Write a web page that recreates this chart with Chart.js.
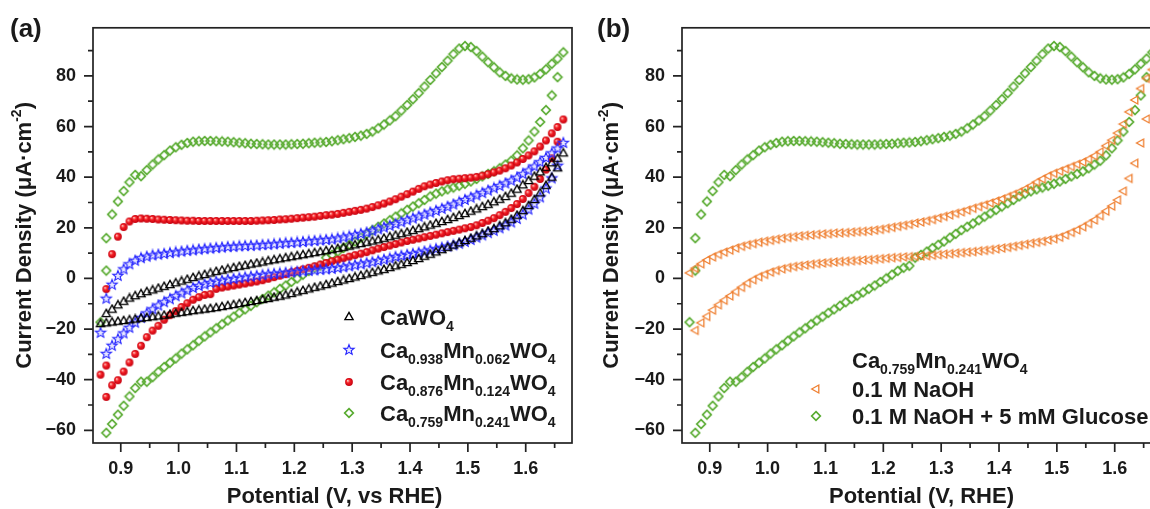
<!DOCTYPE html>
<html>
<head>
<meta charset="utf-8">
<script src="https://cdn.jsdelivr.net/npm/chart.js@4.4.0/dist/chart.umd.min.js"></script>
<style>
  html, body { margin: 0; padding: 0; background: #fff; overflow: hidden; width: 1150px; height: 509px; }
  .panel { position: absolute; top: 0; }
  #wrapA { left: 0; }
  #wrapB { left: 590px; }
</style>
</head>
<body>
<div id="wrapA" class="panel"><canvas id="chartA" width="590" height="509"></canvas></div>
<div id="wrapB" class="panel"><canvas id="chartB" width="600" height="509"></canvas></div>
<script>
// potential grid (V vs RHE), shared by every sweep
const potential = [
  0.875,0.885,0.895,0.905,0.915,0.925,0.935,0.945,0.955,0.965,
  0.975,0.985,0.995,1.005,1.015,1.025,1.035,1.045,1.055,1.065,
  1.075,1.085,1.095,1.105,1.115,1.125,1.135,1.145,1.155,1.165,
  1.175,1.185,1.195,1.205,1.215,1.225,1.235,1.245,1.255,1.265,
  1.275,1.285,1.295,1.305,1.315,1.325,1.335,1.345,1.355,1.365,
  1.375,1.385,1.395,1.405,1.415,1.425,1.435,1.445,1.455,1.465,
  1.475,1.485,1.495,1.505,1.515,1.525,1.535,1.545,1.555,1.565,
  1.575,1.585,1.595,1.605,1.615,1.625,1.635,1.645,1.655,1.665
];

// CaWO4
const caWO4Fwd = [
  -14,-12.3,-10.6,-9.2,-7.9,-7,-6.2,-5.4,-4.7,-4,
  -3.3,-2.6,-1.9,-1.2,-0.5,0.2,0.8,1.4,2,2.6,
  3.1,3.6,4.1,4.6,5,5.5,5.9,6.3,6.8,7.2,
  7.6,8,8.4,8.8,9.2,9.6,10,10.4,10.8,11.2,
  11.7,12.1,12.6,13.1,13.6,14.1,14.6,15.1,15.7,16.3,
  16.9,17.5,18.1,18.8,19.5,20.2,20.9,21.6,22.3,23.1,
  23.9,24.7,25.5,26.4,27.3,28.2,29.1,30.1,31.1,32.2,
  33.5,35.1,36.8,38.5,40.2,41.9,43.7,45.5,47.3,49.4
];
const caWO4Rev = [
  -17.7,-17.4,-17.1,-16.8,-16.5,-16.2,-15.9,-15.6,-15.3,-15,
  -14.7,-14.3,-13.9,-13.6,-13.3,-12.9,-12.6,-12.3,-12,-11.7,
  -11.3,-10.9,-10.5,-10.1,-9.7,-9.3,-8.9,-8.5,-8.1,-7.6,
  -7.2,-6.7,-6.1,-5.5,-4.9,-4.3,-3.7,-3.2,-2.6,-2,
  -1.4,-0.8,-0.2,0.4,1,1.6,2.2,2.8,3.4,4.1,
  4.8,5.4,6.1,6.9,7.7,8.6,9.4,10.3,11.2,12.1,
  13,13.9,14.8,15.7,16.6,17.5,18.5,19.5,20.6,21.8,
  23.2,24.8,26.6,28.6,31,33.6,36.6,39.8,43.5,null
];
const caWO4Turn = [[0.865, -18]];

// Ca0.938Mn0.062WO4
const mn062Fwd = [
  -8,-2.5,1,3.6,5.6,7,8,8.6,9.1,9.4,
  9.7,10,10.3,10.6,10.9,11.1,11.4,11.6,11.8,12,
  12.2,12.4,12.5,12.7,12.8,12.9,13,13.2,13.3,13.5,
  13.7,13.9,14,14.2,14.4,14.6,14.8,15,15.2,15.4,
  15.8,16.2,16.6,17.1,17.6,18.1,18.7,19.4,20.1,20.8,
  21.5,22.2,23,23.7,24.4,25.2,26,26.7,27.5,28.3,
  29.2,30.1,31,31.9,32.8,33.7,34.7,35.6,36.5,37.5,
  38.6,39.8,41.2,42.6,44.2,45.9,47.6,49.4,51.3,53.5
];
const mn062Rev = [
  -29.8,-26.6,-24,-21.7,-19.5,-17.5,-15.6,-13.8,-12.2,-10.7,
  -9.4,-8.2,-7,-5.9,-4.8,-3.8,-3,-2.4,-1.8,-1.3,
  -0.9,-0.5,-0.2,0.1,0.4,0.7,1,1.3,1.6,1.8,
  2,2.2,2.4,2.6,2.8,3,3.2,3.4,3.6,3.8,
  4.1,4.4,4.8,5.2,5.6,6,6.4,6.9,7.4,7.9,
  8.5,8.9,9.3,9.7,10.1,10.6,11.1,11.6,12.1,12.6,
  13.1,13.7,14.4,15.2,16.1,17,17.9,18.8,19.8,20.9,
  22.1,23.5,25.2,27.2,29.5,32,35.5,39.5,44.5,null
];
const mn062Turn = [[0.865, -21.5]];

// Ca0.876Mn0.124WO4
const mn124Fwd = [
  -4.2,9.6,16.5,20.3,22.5,23.5,23.7,23.6,23.5,23.3,
  23.2,23.1,23,22.9,22.8,22.8,22.7,22.7,22.7,22.7,
  22.7,22.7,22.7,22.7,22.7,22.7,22.8,22.9,23,23.1,
  23.3,23.4,23.6,23.8,24,24.2,24.4,24.7,25,25.2,
  25.5,25.9,26.3,26.7,27.1,27.6,28.2,28.9,29.6,30.4,
  31.3,32.3,33.3,34.3,35.4,36.4,37.1,37.7,38.3,38.8,
  39.2,39.4,39.6,39.8,40.1,40.6,41.2,41.9,42.6,43.5,
  44.6,45.8,47.2,48.6,50.2,52.1,54.5,57.3,59.8,62.8
];
const mn124Rev = [
  -46.8,-42.2,-40.2,-36.8,-33.2,-29.8,-26.6,-23.2,-20.6,-18.7,
  -16.3,-14.5,-12.9,-11.3,-9.8,-8.4,-7.4,-6.5,-6.2,-4.1,
  -3.6,-3.2,-2.8,-2.4,-2,-1.6,-1.2,-0.7,-0.1,0.5,
  1.1,1.7,2.4,3,3.6,4.2,4.8,5.5,6.1,6.8,
  7.4,8,8.6,9.2,9.8,10.4,11.1,11.8,12.4,13,
  13.6,14.2,14.8,15.3,15.8,16.3,16.8,17.3,17.8,18.3,
  18.8,19.3,19.8,20.3,21,21.9,22.8,23.8,25,26.3,
  27.8,29.4,31.4,33.7,36.2,39.3,43,47.5,54,null
];
const mn124Turn = [[0.865, -38], [0.875, -34.4]];

// Ca0.759Mn0.241WO4 (same curve in both panels)
const mn241Fwd = [
  15.9,25.3,30.4,34.5,38,40.9,40.4,42.8,45,47,
  48.7,50.5,51.8,52.8,53.5,54,54.2,54.3,54.3,54.2,
  54.1,54,53.8,53.6,53.4,53.2,53.1,53,52.9,52.9,
  52.9,52.9,53,53.1,53.2,53.4,53.6,53.7,53.9,54.2,
  54.6,55,55.4,55.9,56.4,57.1,58,59.3,60.8,62.4,
  64.1,66.3,68.5,70.8,73.2,75.8,78.4,81,83.5,86,
  88.6,90.8,91.8,91.4,89.8,87.6,85.4,83.4,81.4,80,
  79,78.6,78.5,78.7,79.4,80.8,82.6,84.8,86.8,89.3
];
const mn241Rev = [
  -61,-57.5,-53.8,-50.3,-46.6,-43.3,-40.8,-40.8,-39,-36.9,
  -35,-33.3,-31.6,-29.7,-28,-26.4,-24.6,-22.9,-21.3,-19.7,
  -18.1,-16.6,-15.1,-13.6,-12.2,-10.8,-9.4,-8.1,-6.8,-5.5,
  -4.1,-2.8,-1.4,0,1.5,3,4.2,5,8.2,9.3,
  10.6,12,13.3,14.6,16.1,17.6,19.1,20.4,21.7,23,
  24.4,25.7,27.1,28.4,29.7,31,32.4,33.5,34.4,35.2,
  35.9,36.6,37.4,38.3,39.3,40.3,41.3,42.3,43.5,45,
  46.5,48.6,51.4,54.5,58,61.8,66.5,72.3,79.5,null
];
const mn241Turn = [[0.865, -17.3], [0.875, 3.1]];

// Ca0.759Mn0.241WO4 in 0.1 M NaOH
const naohFwd = [
  4,5.8,7.3,8.5,9.5,10.4,11.2,12,12.7,13.3,
  13.8,14.3,14.7,15.1,15.5,15.9,16.2,16.5,16.8,17,
  17.2,17.4,17.6,17.7,17.9,18,18.1,18.3,18.5,18.6,
  18.8,19.1,19.4,19.8,20.2,20.6,21,21.4,21.9,22.3,
  22.8,23.3,23.9,24.5,25.1,25.7,26.3,27,27.7,28.4,
  29.1,29.8,30.6,31.4,32.3,33.2,34.2,35.3,36.6,38,
  39.3,40.5,41.5,42.4,43.3,44.2,45.1,46,47.1,48.4,
  50,52.4,54.6,57.4,61,65.8,70.5,75,79,82.5
];
const naohRev = [
  -20.5,-17.5,-15,-12.5,-10.4,-8.6,-6.9,-5.2,-3.5,-1.9,
  -0.5,0.7,1.6,2.5,3.2,3.8,4.3,4.7,5,5.3,
  5.6,5.9,6.1,6.3,6.5,6.7,6.8,7,7.1,7.3,
  7.4,7.6,7.8,8,8.2,8.3,8.5,8.6,8.7,8.9,
  9,9.2,9.4,9.6,9.8,10,10.2,10.4,10.6,10.9,
  11.1,11.4,11.7,12,12.3,12.7,13.1,13.5,13.9,14.3,
  14.7,15.2,15.7,16.3,17.2,18.2,19.2,20.4,21.7,23.1,
  24.8,26.6,28.6,31,34.5,39.5,45.5,53.5,63,null
];
const naohTurn = [[0.865, 2.2]];

// axes
const xRange = [0.852, 1.68];
const yRange = [-65, 99];

const FONT = '"Liberation Sans", Arial, Helvetica, sans-serif';
const INK = '#1a1a1a';

// marker images
function marker(size, draw) {
  const c = document.createElement('canvas');
  c.width = c.height = size;
  draw(c.getContext('2d'), size / 2);
  return c;
}
function poly(g, pts) {
  g.beginPath();
  pts.forEach(([px, py], i) => i ? g.lineTo(px, py) : g.moveTo(px, py));
  g.closePath();
}
const triMark = marker(12, (g, m) => {
  poly(g, [[m, m - 4.6], [m + 4.1, m + 2.6], [m - 4.1, m + 2.6]]);
  g.strokeStyle = '#000'; g.lineWidth = 1.35; g.stroke();
});
const starMark = marker(14, (g, m) => {
  const pts = [];
  for (let k = 0; k < 10; k++) {
    const a = -Math.PI / 2 + k * Math.PI / 5, r = k % 2 ? 2.3 : 5.4;
    pts.push([m + r * Math.cos(a), m + r * Math.sin(a)]);
  }
  poly(g, pts);
  g.fillStyle = 'rgba(190,190,255,0.35)'; g.fill();
  g.strokeStyle = '#2626ff'; g.lineWidth = 1.1; g.stroke();
});
const ballMark = marker(10, (g, m) => {
  const grad = g.createRadialGradient(m - 1.4, m - 1.4, 0.3, m, m, 4);
  grad.addColorStop(0, '#ffc4bc');
  grad.addColorStop(0.4, '#f41e24');
  grad.addColorStop(1, '#c4000e');
  g.fillStyle = grad;
  g.beginPath(); g.arc(m, m, 3.9, 0, Math.PI * 2); g.fill();
});
const diaMark = marker(12, (g, m) => {
  poly(g, [[m, m - 4.3], [m + 4.3, m], [m, m + 4.3], [m - 4.3, m]]);
  g.strokeStyle = '#58ab30'; g.lineWidth = 1.7; g.stroke();
});
const leftTriMark = marker(12, (g, m) => {
  poly(g, [[m - 4.3, m], [m + 2.8, m - 4], [m + 2.8, m + 4]]);
  g.strokeStyle = '#ef7f30'; g.lineWidth = 1.3; g.stroke();
});

function loop(fwd, rev, turn) {
  const pts = [];
  potential.forEach((v, i) => { if (fwd[i] !== null) pts.push({x: v, y: fwd[i]}); });
  for (let i = potential.length - 1; i >= 0; i--) {
    if (rev[i] !== null) pts.push({x: potential[i], y: rev[i]});
  }
  turn.forEach(([v, c]) => pts.push({x: v, y: c}));
  return pts;
}

function series(label, pts, img) {
  return { label, data: pts, pointStyle: img, pointRadius: 4, pointHoverRadius: 4, showLine: false };
}

// draws a run of [text, isSub] pieces, returns width
function rich(ctx, parts, x, y, big, small) {
  let cx = x;
  parts.forEach(([t, isSub]) => {
    ctx.font = 'bold ' + (isSub ? small : big) + 'px ' + FONT;
    ctx.fillText(t, cx, isSub ? y + 6 : y);
    cx += ctx.measureText(t).width;
  });
  return cx - x;
}

// frame, ticks, titles and legend; config kept in a closure
function makeFrame(o) {
  return {
    id: 'frame',
    afterDraw(chart) {
      const {ctx, chartArea: a, scales: {x, y}} = chart;
      ctx.save();
      ctx.strokeStyle = '#222';
      ctx.lineWidth = 1.7;
      ctx.strokeRect(a.left, a.top, a.right - a.left, a.bottom - a.top);
      ctx.beginPath();
      x.ticks.forEach(t => {
        const px = x.getPixelForValue(t.value);
        const major = Math.abs(t.value * 10 - Math.round(t.value * 10)) < 1e-6;
        ctx.moveTo(px, a.bottom); ctx.lineTo(px, a.bottom + (major ? 9 : 5));
      });
      y.ticks.forEach(t => {
        const py = y.getPixelForValue(t.value);
        const major = Math.round(t.value) % 20 === 0;
        ctx.moveTo(a.left, py); ctx.lineTo(a.left - (major ? 9 : 5), py);
      });
      ctx.stroke();

      ctx.fillStyle = INK;
      ctx.textAlign = 'left';
      ctx.textBaseline = 'alphabetic';
      ctx.font = 'bold 26px ' + FONT;
      ctx.fillText(o.panel, o.panelX, 37);

      // x title
      ctx.font = 'bold 22px ' + FONT;
      ctx.textAlign = 'center';
      ctx.textBaseline = 'middle';
      ctx.fillText(o.xTitle, (a.left + a.right) / 2 + o.xTitleShift, 497);

      // y title with superscript
      ctx.save();
      ctx.translate(o.yTitleX, (a.top + a.bottom) / 2);
      ctx.rotate(-Math.PI / 2);
      ctx.textAlign = 'left';
      const main1 = 'Current Density (\u03bcA\u00b7cm', sup = '-2', main2 = ')';
      ctx.font = 'bold 22px ' + FONT;
      const w1 = ctx.measureText(main1).width, w3 = ctx.measureText(main2).width;
      ctx.font = 'bold 14px ' + FONT;
      const w2 = ctx.measureText(sup).width;
      const sx = -(w1 + w2 + w3) / 2;
      ctx.font = 'bold 22px ' + FONT;
      ctx.fillText(main1, sx, 0);
      ctx.font = 'bold 14px ' + FONT;
      ctx.fillText(sup, sx + w1, -8);
      ctx.font = 'bold 22px ' + FONT;
      ctx.fillText(main2, sx + w1 + w2, 0);
      ctx.restore();

      // legend
      ctx.textAlign = 'left';
      ctx.textBaseline = 'alphabetic';
      o.legend.forEach(item => {
        if (item.img) ctx.drawImage(item.img, item.mx - item.img.width / 2, item.y - item.img.height / 2);
        rich(ctx, item.parts, item.tx, item.y + 7.5, 22, 14);
      });
      ctx.restore();
    }
  };
}

function makeOptions(cfg) {
  return {
    responsive: false,
    animation: false,
    events: [],
    layout: { padding: { left: 0, top: 17, right: cfg.padRight, bottom: 0 } },
    plugins: { legend: { display: false }, tooltip: { enabled: false } },
    scales: {
      x: {
        type: 'linear', min: xRange[0], max: xRange[1],
        grid: { display: false, drawTicks: false }, border: { display: false },
        ticks: {
          stepSize: 0.05, autoSkip: false, includeBounds: false, maxRotation: 0, padding: 15,
          color: INK, font: { family: FONT, size: 18, weight: 'bold' },
          callback: v => Math.abs(v * 10 - Math.round(v * 10)) < 1e-6 ? v.toFixed(1) : ''
        },
        afterFit: s => { s.height = 66; }
      },
      y: {
        type: 'linear', min: yRange[0], max: yRange[1],
        grid: { display: false, drawTicks: false }, border: { display: false },
        ticks: {
          stepSize: 10, autoSkip: false, includeBounds: false, padding: 17,
          color: INK, font: { family: FONT, size: 18, weight: 'bold' },
          callback: v => Math.round(v) % 20 === 0 ? String(Math.round(v)).replace('-', '\u2212') : ''
        },
        afterFit: s => { s.width = cfg.axisWidth; }
      }
    }
  };
}

const sub = (t) => [t, true];
const txt = (t) => [t, false];

new Chart(document.getElementById('chartA'), {
  type: 'scatter',
  data: {
    datasets: [
      series('CaWO4', loop(caWO4Fwd, caWO4Rev, caWO4Turn), triMark),
      series('Ca0.938Mn0.062WO4', loop(mn062Fwd, mn062Rev, mn062Turn), starMark),
      series('Ca0.876Mn0.124WO4', loop(mn124Fwd, mn124Rev, mn124Turn), ballMark),
      series('Ca0.759Mn0.241WO4', loop(mn241Fwd, mn241Rev, mn241Turn), diaMark)
    ]
  },
  options: makeOptions({ padRight: 18, axisWidth: 93 }),
  plugins: [makeFrame({
    panel: '(a)', panelX: 10,
    xTitle: 'Potential (V, vs RHE)', xTitleShift: 2, yTitleX: 25,
    legend: [
      { img: triMark, mx: 349, tx: 380, y: 317, parts: [txt('CaWO'), sub('4')] },
      { img: starMark, mx: 349, tx: 380, y: 350, parts: [txt('Ca'), sub('0.938'), txt('Mn'), sub('0.062'), txt('WO'), sub('4')] },
      { img: ballMark, mx: 349, tx: 380, y: 382, parts: [txt('Ca'), sub('0.876'), txt('Mn'), sub('0.124'), txt('WO'), sub('4')] },
      { img: diaMark, mx: 349, tx: 380, y: 413, parts: [txt('Ca'), sub('0.759'), txt('Mn'), sub('0.241'), txt('WO'), sub('4')] }
    ]
  })]
});

new Chart(document.getElementById('chartB'), {
  type: 'scatter',
  data: {
    datasets: [
      series('0.1 M NaOH', loop(naohFwd, naohRev, naohTurn), leftTriMark),
      series('0.1 M NaOH + 5 mM Glucose', loop(mn241Fwd, mn241Rev, mn241Turn), diaMark)
    ]
  },
  options: makeOptions({ padRight: 29, axisWidth: 92 }),
  plugins: [makeFrame({
    panel: '(b)', panelX: 7,
    xTitle: 'Potential (V, RHE)', xTitleShift: 0, yTitleX: 22,
    legend: [
      { img: null, mx: 0, tx: 262, y: 360, parts: [txt('Ca'), sub('0.759'), txt('Mn'), sub('0.241'), txt('WO'), sub('4')] },
      { img: leftTriMark, mx: 226, tx: 262, y: 389, parts: [txt('0.1 M NaOH')] },
      { img: diaMark, mx: 226, tx: 262, y: 416, parts: [txt('0.1 M NaOH + 5 mM Glucose')] }
    ]
  })]
});
</script>
</body>
</html>
